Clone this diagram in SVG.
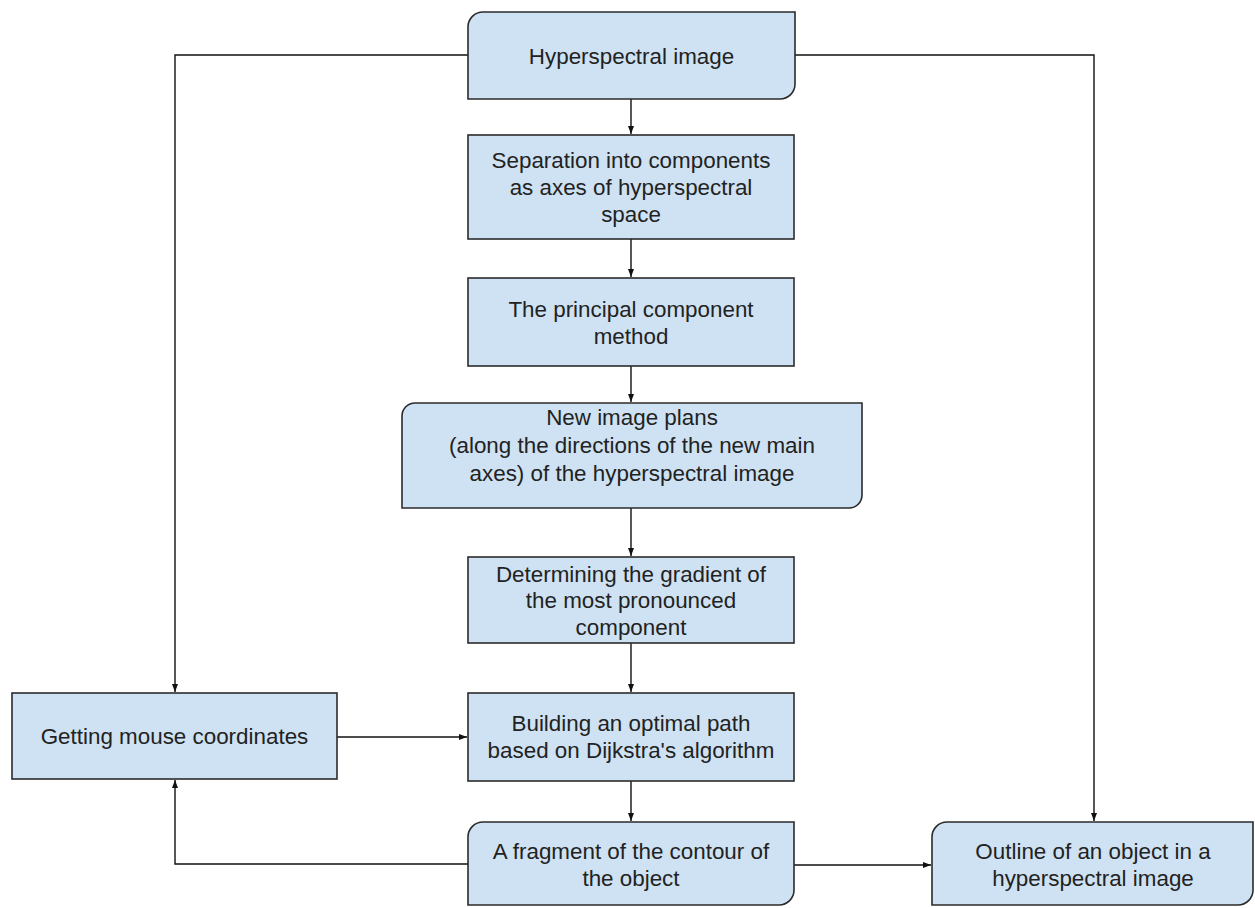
<svg xmlns="http://www.w3.org/2000/svg" width="1255" height="908" viewBox="0 0 1255 908">
<style>
.box{fill:#cfe2f3;stroke:#2b2b2b;stroke-width:1.6}
.lbl{font-family:"Liberation Sans",Arial,sans-serif;font-size:22.4px;fill:#222;text-anchor:middle}
.edge{fill:none;stroke:#111;stroke-width:1.4}
</style>
<defs>
<marker id="ah" markerUnits="userSpaceOnUse" markerWidth="8" markerHeight="8" viewBox="0 0 8 8" refX="8" refY="4" orient="auto">
<path d="M0,1 L8,4 L0,7 Z" fill="#111"/>
</marker>
</defs>
<rect width="1255" height="908" fill="#fff"/>
<g id="connectors">
<path class="edge" d="M631,99 V134" marker-end="url(#ah)"/>
<path class="edge" d="M631,239 V277" marker-end="url(#ah)"/>
<path class="edge" d="M631,366 V402" marker-end="url(#ah)"/>
<path class="edge" d="M631,508 V556" marker-end="url(#ah)"/>
<path class="edge" d="M631,643 V692" marker-end="url(#ah)"/>
<path class="edge" d="M631,781 V821" marker-end="url(#ah)"/>
<path class="edge" d="M468,55 H175 V692" marker-end="url(#ah)"/>
<path class="edge" d="M795,55 H1094 V821" marker-end="url(#ah)"/>
<path class="edge" d="M337,737 H467" marker-end="url(#ah)"/>
<path class="edge" d="M468,864 H175 V780" marker-end="url(#ah)"/>
<path class="edge" d="M794,865 H931" marker-end="url(#ah)"/>
</g>
<g id="n_hyperspectral">
<path class="box" d="M468,27 A15,15 0 0 1 483,12 H795 V84 A15,15 0 0 1 780,99 H468 Z"/>
<text class="lbl" x="631.5" y="64">Hyperspectral image</text>
</g>
<g id="n_separation">
<rect class="box" x="468" y="135" width="326" height="104"/>
<text class="lbl" x="631" y="168">Separation into components</text>
<text class="lbl" x="631" y="195">as axes of hyperspectral</text>
<text class="lbl" x="631" y="222">space</text>
</g>
<g id="n_principal">
<rect class="box" x="468" y="278" width="326" height="88"/>
<text class="lbl" x="631" y="317">The principal component</text>
<text class="lbl" x="631" y="344">method</text>
</g>
<g id="n_newplans">
<path class="box" d="M402,416 A13,13 0 0 1 415,403 H862 V495 A13,13 0 0 1 849,508 H402 Z"/>
<text class="lbl" x="632" y="425">New image plans</text>
<text class="lbl" x="632" y="453">(along the directions of the new main</text>
<text class="lbl" x="632" y="481">axes) of the hyperspectral image</text>
</g>
<g id="n_gradient">
<rect class="box" x="468" y="557" width="326" height="86"/>
<text class="lbl" x="631" y="582">Determining the gradient of</text>
<text class="lbl" x="631" y="608">the most pronounced</text>
<text class="lbl" x="631" y="635">component</text>
</g>
<g id="n_mouse">
<rect class="box" x="12" y="693" width="325" height="86"/>
<text class="lbl" x="174.5" y="744">Getting mouse coordinates</text>
</g>
<g id="n_dijkstra">
<rect class="box" x="468" y="693" width="326" height="88"/>
<text class="lbl" x="631" y="731">Building an optimal path</text>
<text class="lbl" x="631" y="758">based on Dijkstra's algorithm</text>
</g>
<g id="n_fragment">
<path class="box" d="M468,837 A15,15 0 0 1 483,822 H794 V890 A15,15 0 0 1 779,905 H468 Z"/>
<text class="lbl" x="631" y="859">A fragment of the contour of</text>
<text class="lbl" x="631" y="886">the object</text>
</g>
<g id="n_outline">
<path class="box" d="M932,837 A15,15 0 0 1 947,822 H1253 V890 A15,15 0 0 1 1238,905 H932 Z"/>
<text class="lbl" x="1093" y="859">Outline of an object in a</text>
<text class="lbl" x="1093" y="886">hyperspectral image</text>
</g>
</svg>
